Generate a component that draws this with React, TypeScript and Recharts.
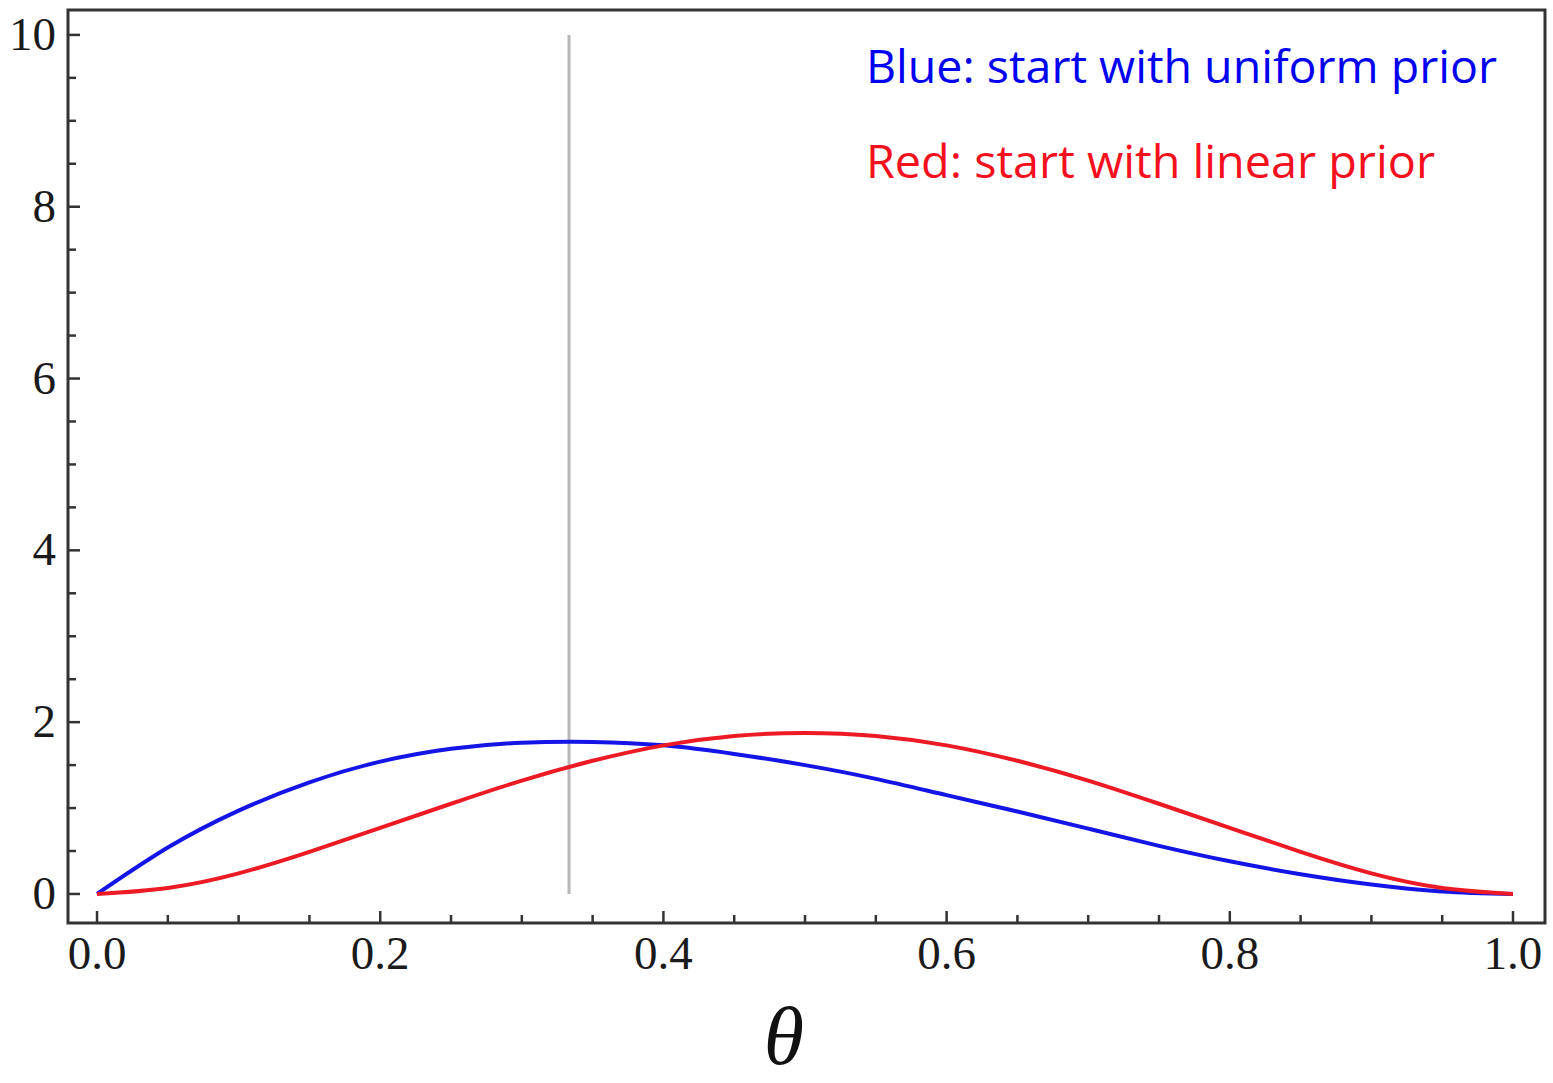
import {
  LineChart,
  Line,
  XAxis,
  YAxis,
  ReferenceArea,
  ReferenceLine,
} from 'recharts';

// theta grid and the two posterior densities
const thetaValues = [
  0, 0.05, 0.1, 0.15, 0.2, 0.25, 0.3, 0.35, 0.4, 0.45, 0.5,
  0.55, 0.6, 0.65, 0.7, 0.75, 0.8, 0.85, 0.9, 0.95, 1.0,
];
const blueValues = [
  0, 0.54, 0.97, 1.3, 1.54, 1.69, 1.76, 1.77, 1.73, 1.63, 1.5,
  1.34, 1.15, 0.96, 0.76, 0.56, 0.38, 0.23, 0.11, 0.03, 0,
];
const redValues = [
  0, 0.07, 0.24, 0.49, 0.77, 1.05, 1.32, 1.55, 1.73, 1.84, 1.875,
  1.84, 1.73, 1.55, 1.32, 1.05, 0.77, 0.49, 0.24, 0.07, 0,
];

const xTicks = [
  0, 0.05, 0.1, 0.15, 0.2, 0.25, 0.3, 0.35, 0.4, 0.45, 0.5,
  0.55, 0.6, 0.65, 0.7, 0.75, 0.8, 0.85, 0.9, 0.95, 1.0,
];
const xMajor = [0, 0.2, 0.4, 0.6, 0.8, 1.0];
const yTicks = [
  0, 0.5, 1, 1.5, 2, 2.5, 3, 3.5, 4, 4.5, 5, 5.5, 6, 6.5, 7, 7.5, 8,
  8.5, 9, 9.5, 10,
];
const yMajor = [0, 2, 4, 6, 8, 10];

const markerTheta = 1 / 3;
const blueLabel = 'Blue: start with uniform prior';
const redLabel = 'Red: start with linear prior';

const chartData = thetaValues.map((t, i) => ({
  theta: t,
  blue: blueValues[i],
  red: redValues[i],
}));

const X_DOMAIN: [number, number] = [-0.0205, 1.0226];
const Y_DOMAIN: [number, number] = [-0.338, 10.29];

const frameColor = '#333';
const tickFont = '"Liberation Serif", "Times New Roman", serif';

const isMajor = (v: number, list: number[]) =>
  list.some((m) => Math.abs(m - v) < 1e-6);

function BottomTick({ x, y, payload }: any) {
  const major = isMajor(payload.value, xMajor);
  return (
    <g>
      <line x1={x} y1={y} x2={x} y2={y - (major ? 12 : 8)} stroke={frameColor} strokeWidth={2.5} />
      {major && (
        <text
          x={x}
          y={y + 46}
          textAnchor="middle"
          fontFamily={tickFont}
          fontSize={47}
          fill="#1a1a1a"
        >
          {payload.value.toFixed(1)}
        </text>
      )}
    </g>
  );
}

function TopTick({ x, y, payload }: any) {
  const major = isMajor(payload.value, xMajor);
  return (
    <line x1={x} y1={y} x2={x} y2={y + (major ? 12 : 8)} stroke={frameColor} strokeWidth={2.5} />
  );
}

function LeftTick({ x, y, payload }: any) {
  const major = isMajor(payload.value, yMajor);
  return (
    <g>
      <line x1={x} y1={y} x2={x + (major ? 12 : 8)} y2={y} stroke={frameColor} strokeWidth={2.5} />
      {major && (
        <text
          x={x - 12}
          y={y + 15}
          textAnchor="end"
          fontFamily={tickFont}
          fontSize={47}
          fill="#1a1a1a"
        >
          {payload.value}
        </text>
      )}
    </g>
  );
}

function RightTick({ x, y, payload }: any) {
  const major = isMajor(payload.value, yMajor);
  return (
    <line x1={x} y1={y} x2={x - (major ? 12 : 8)} y2={y} stroke={frameColor} strokeWidth={2.5} />
  );
}

export default function App() {
  return (
    <div style={{ position: 'absolute', left: 0, top: 0, width: 1553, height: 1083, background: '#fff' }}>
      <LineChart
        width={1553}
        height={1083}
        data={chartData}
        margin={{ top: 10, right: 8, left: 0, bottom: 0 }}
      >
        <XAxis
          dataKey="theta"
          type="number"
          domain={X_DOMAIN}
          allowDataOverflow
          ticks={xTicks}
          interval={0}
          height={160}
          axisLine={false}
          tickLine={false}
          tickSize={0}
          tickMargin={0}
          tick={<BottomTick />}
        />
        <XAxis
          xAxisId="top"
          orientation="top"
          dataKey="theta"
          type="number"
          domain={X_DOMAIN}
          allowDataOverflow
          ticks={xTicks}
          interval={0}
          height={0}
          axisLine={false}
          tickLine={false}
          tickSize={0}
          tickMargin={0}
          tick={<TopTick />}
        />
        <YAxis
          type="number"
          domain={Y_DOMAIN}
          allowDataOverflow
          ticks={yTicks}
          interval={0}
          width={68}
          axisLine={false}
          tickLine={false}
          tickSize={0}
          tickMargin={0}
          tick={<LeftTick />}
        />
        <YAxis
          yAxisId="right"
          orientation="right"
          type="number"
          domain={Y_DOMAIN}
          allowDataOverflow
          ticks={yTicks}
          interval={0}
          width={0}
          axisLine={false}
          tickLine={false}
          tickSize={0}
          tickMargin={0}
          tick={<RightTick />}
        />
        <ReferenceArea
          x1={X_DOMAIN[0]}
          x2={X_DOMAIN[1]}
          y1={Y_DOMAIN[0]}
          y2={Y_DOMAIN[1]}
          fill="none"
          stroke={frameColor}
          strokeWidth={3}
          ifOverflow="visible"
        />
        <ReferenceLine
          segment={[
            { x: markerTheta, y: 0 },
            { x: markerTheta, y: 10 },
          ]}
          stroke="#b8b8b8"
          strokeWidth={3}
        />
        <Line
          type="natural"
          dataKey="blue"
          stroke="#1414e6"
          strokeWidth={4}
          dot={false}
          activeDot={false}
          isAnimationActive={false}
        />
        <Line
          type="natural"
          dataKey="red"
          stroke="#ec1a24"
          strokeWidth={4}
          dot={false}
          activeDot={false}
          isAnimationActive={false}
        />
      </LineChart>
      <svg
        width={1553}
        height={1083}
        style={{ position: 'absolute', left: 0, top: 0, pointerEvents: 'none' }}
      >
        <text
          x={866}
          y={83}
          fontFamily='"Open Sans", "Noto Sans", sans-serif'
          fontSize={46}
          fill="#0000f0"
          textLength={631}
          lengthAdjust="spacingAndGlyphs"
        >
          {blueLabel}
        </text>
        <text
          x={866}
          y={178}
          fontFamily='"Open Sans", "Noto Sans", sans-serif'
          fontSize={46}
          fill="#f5101e"
          textLength={569}
          lengthAdjust="spacingAndGlyphs"
        >
          {redLabel}
        </text>
        <text
          x={784}
          y={1064}
          textAnchor="middle"
          fontFamily={tickFont}
          fontStyle="italic"
          fontSize={82}
          fill="#111"
        >
          θ
        </text>
      </svg>
    </div>
  );
}
